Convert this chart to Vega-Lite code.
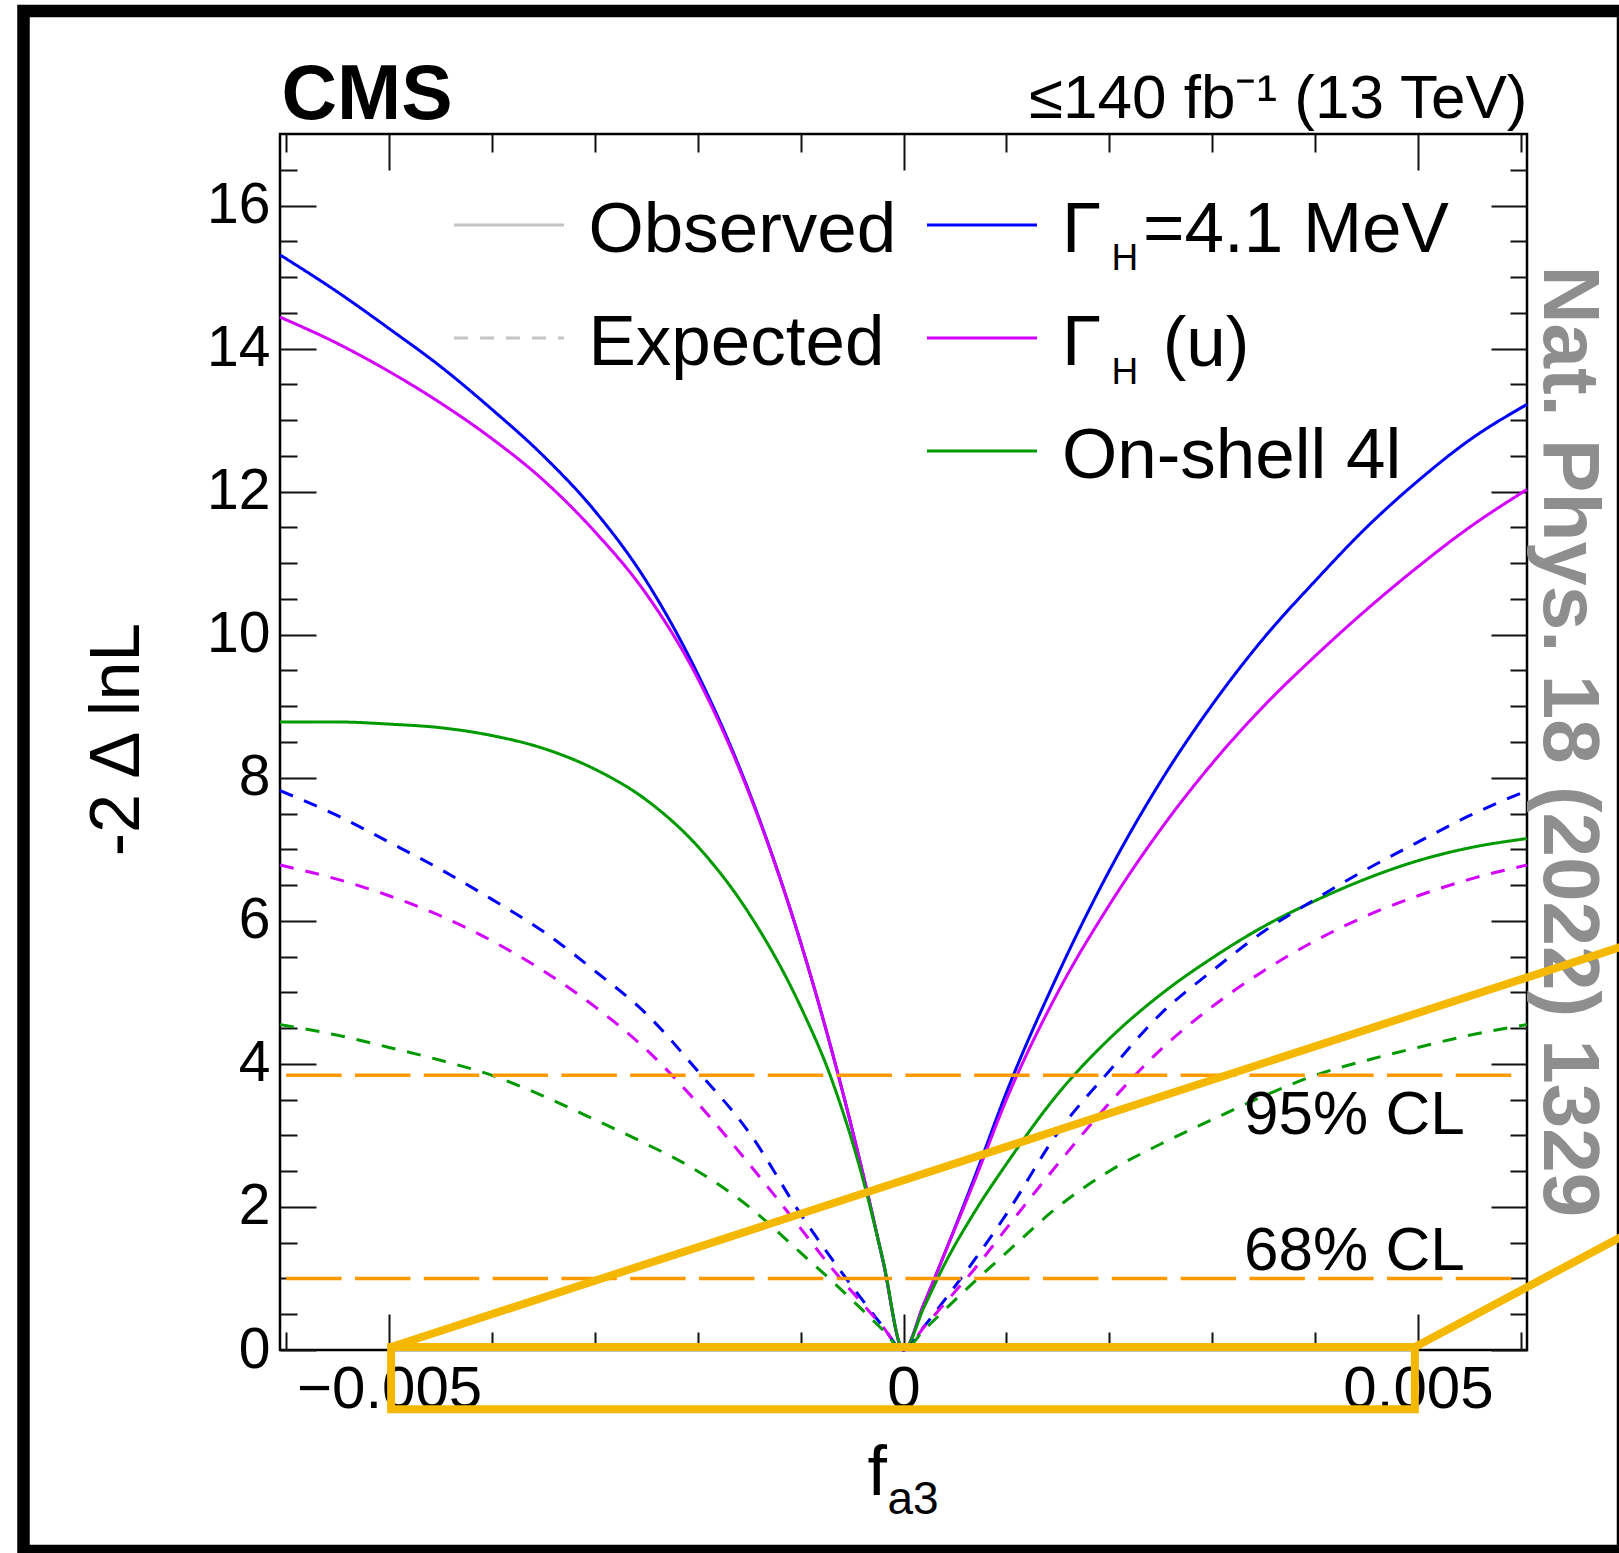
{
  "$schema": "https://vega.github.io/schema/vega-lite/v6.json",
  "width": 1247,
  "height": 1216,
  "autosize": "none",
  "padding": {"left": 280, "top": 134, "right": 92, "bottom": 203},
  "background": "white",
  "config": {
    "view": {"stroke": "#000", "strokeWidth": 2.5},
    "font": "Liberation Sans",
    "axis": {"grid": false, "domain": false, "tickColor": "#111", "tickWidth": 2, "labelFont": "Liberation Sans", "titleFont": "Liberation Sans", "titleFontWeight": "normal", "labelColor": "#000", "titleColor": "#000", "zindex": 1, "labelFlush": false, "labelOverlap": false, "labelLimit": 600, "titleLimit": 2000},
    "legend": {"labelFont": "Liberation Sans", "labelColor": "#000", "labelLimit": 2000, "padding": 0, "titlePadding": 0}
  },
  "datasets": {
    "curves": [
      {"m":"G41","k":"Observed","x":-0.00606,"y":15.31},{"m":"G41","k":"Observed","x":-0.0055,"y":14.79},{"m":"G41","k":"Observed","x":-0.005,"y":14.28},{"m":"G41","k":"Observed","x":-0.0045,"y":13.75},{"m":"G41","k":"Observed","x":-0.004,"y":13.15},{"m":"G41","k":"Observed","x":-0.0035,"y":12.5},{"m":"G41","k":"Observed","x":-0.003,"y":11.73},{"m":"G41","k":"Observed","x":-0.0025,"y":10.75},{"m":"G41","k":"Observed","x":-0.002,"y":9.45},{"m":"G41","k":"Observed","x":-0.0015,"y":7.8},{"m":"G41","k":"Observed","x":-0.001,"y":5.7},{"m":"G41","k":"Observed","x":-0.0007,"y":4.2},{"m":"G41","k":"Observed","x":-0.0004,"y":2.5},{"m":"G41","k":"Observed","x":-0.0002,"y":1.25},{"m":"G41","k":"Observed","x":0,"y":0},{"m":"G41","k":"Observed","x":0.0002,"y":0.65},{"m":"G41","k":"Observed","x":0.0004,"y":1.35},{"m":"G41","k":"Observed","x":0.0007,"y":2.45},{"m":"G41","k":"Observed","x":0.001,"y":3.6},{"m":"G41","k":"Observed","x":0.0015,"y":5.25},{"m":"G41","k":"Observed","x":0.002,"y":6.7},{"m":"G41","k":"Observed","x":0.0025,"y":7.95},{"m":"G41","k":"Observed","x":0.003,"y":9.02},{"m":"G41","k":"Observed","x":0.0035,"y":9.95},{"m":"G41","k":"Observed","x":0.004,"y":10.75},{"m":"G41","k":"Observed","x":0.0045,"y":11.5},{"m":"G41","k":"Observed","x":0.005,"y":12.15},{"m":"G41","k":"Observed","x":0.0055,"y":12.72},{"m":"G41","k":"Observed","x":0.00606,"y":13.22},
      {"m":"Gu","k":"Observed","x":-0.00606,"y":14.44},{"m":"Gu","k":"Observed","x":-0.0055,"y":14.07},{"m":"Gu","k":"Observed","x":-0.005,"y":13.68},{"m":"Gu","k":"Observed","x":-0.0045,"y":13.24},{"m":"Gu","k":"Observed","x":-0.004,"y":12.74},{"m":"Gu","k":"Observed","x":-0.0035,"y":12.16},{"m":"Gu","k":"Observed","x":-0.003,"y":11.44},{"m":"Gu","k":"Observed","x":-0.0025,"y":10.57},{"m":"Gu","k":"Observed","x":-0.002,"y":9.39},{"m":"Gu","k":"Observed","x":-0.0015,"y":7.78},{"m":"Gu","k":"Observed","x":-0.001,"y":5.7},{"m":"Gu","k":"Observed","x":-0.0007,"y":4.2},{"m":"Gu","k":"Observed","x":-0.0004,"y":2.5},{"m":"Gu","k":"Observed","x":-0.0002,"y":1.25},{"m":"Gu","k":"Observed","x":0,"y":0},{"m":"Gu","k":"Observed","x":0.0002,"y":0.65},{"m":"Gu","k":"Observed","x":0.0004,"y":1.35},{"m":"Gu","k":"Observed","x":0.0007,"y":2.4},{"m":"Gu","k":"Observed","x":0.001,"y":3.5},{"m":"Gu","k":"Observed","x":0.0015,"y":5.0},{"m":"Gu","k":"Observed","x":0.002,"y":6.22},{"m":"Gu","k":"Observed","x":0.0025,"y":7.28},{"m":"Gu","k":"Observed","x":0.003,"y":8.2},{"m":"Gu","k":"Observed","x":0.0035,"y":9.0},{"m":"Gu","k":"Observed","x":0.004,"y":9.7},{"m":"Gu","k":"Observed","x":0.0045,"y":10.35},{"m":"Gu","k":"Observed","x":0.005,"y":10.95},{"m":"Gu","k":"Observed","x":0.0055,"y":11.5},{"m":"Gu","k":"Observed","x":0.00606,"y":12.03},
      {"m":"OS","k":"Observed","x":-0.00606,"y":8.78},{"m":"OS","k":"Observed","x":-0.0055,"y":8.78},{"m":"OS","k":"Observed","x":-0.005,"y":8.75},{"m":"OS","k":"Observed","x":-0.0045,"y":8.7},{"m":"OS","k":"Observed","x":-0.004,"y":8.59},{"m":"OS","k":"Observed","x":-0.0035,"y":8.41},{"m":"OS","k":"Observed","x":-0.003,"y":8.12},{"m":"OS","k":"Observed","x":-0.0025,"y":7.69},{"m":"OS","k":"Observed","x":-0.002,"y":7.04},{"m":"OS","k":"Observed","x":-0.0015,"y":6.1},{"m":"OS","k":"Observed","x":-0.001,"y":4.8},{"m":"OS","k":"Observed","x":-0.0007,"y":3.79},{"m":"OS","k":"Observed","x":-0.0004,"y":2.42},{"m":"OS","k":"Observed","x":-0.0002,"y":1.26},{"m":"OS","k":"Observed","x":0,"y":0},{"m":"OS","k":"Observed","x":0.0002,"y":0.6},{"m":"OS","k":"Observed","x":0.0004,"y":1.2},{"m":"OS","k":"Observed","x":0.0007,"y":1.95},{"m":"OS","k":"Observed","x":0.001,"y":2.6},{"m":"OS","k":"Observed","x":0.0015,"y":3.58},{"m":"OS","k":"Observed","x":0.002,"y":4.35},{"m":"OS","k":"Observed","x":0.0025,"y":4.97},{"m":"OS","k":"Observed","x":0.003,"y":5.48},{"m":"OS","k":"Observed","x":0.0035,"y":5.92},{"m":"OS","k":"Observed","x":0.004,"y":6.28},{"m":"OS","k":"Observed","x":0.0045,"y":6.59},{"m":"OS","k":"Observed","x":0.005,"y":6.84},{"m":"OS","k":"Observed","x":0.0055,"y":7.02},{"m":"OS","k":"Observed","x":0.00606,"y":7.15},
      {"m":"G41","k":"Expected","x":-0.00606,"y":7.82},{"m":"G41","k":"Expected","x":-0.0055,"y":7.47},{"m":"G41","k":"Expected","x":-0.005,"y":7.1},{"m":"G41","k":"Expected","x":-0.0045,"y":6.72},{"m":"G41","k":"Expected","x":-0.004,"y":6.3},{"m":"G41","k":"Expected","x":-0.0035,"y":5.85},{"m":"G41","k":"Expected","x":-0.003,"y":5.3},{"m":"G41","k":"Expected","x":-0.0025,"y":4.7},{"m":"G41","k":"Expected","x":-0.002,"y":3.9},{"m":"G41","k":"Expected","x":-0.0015,"y":3.04},{"m":"G41","k":"Expected","x":-0.001,"y":1.9},{"m":"G41","k":"Expected","x":-0.0007,"y":1.28},{"m":"G41","k":"Expected","x":-0.0004,"y":0.7},{"m":"G41","k":"Expected","x":-0.0002,"y":0.33},{"m":"G41","k":"Expected","x":0,"y":0},{"m":"G41","k":"Expected","x":0.0002,"y":0.33},{"m":"G41","k":"Expected","x":0.0004,"y":0.7},{"m":"G41","k":"Expected","x":0.0007,"y":1.28},{"m":"G41","k":"Expected","x":0.001,"y":1.9},{"m":"G41","k":"Expected","x":0.0015,"y":3.04},{"m":"G41","k":"Expected","x":0.002,"y":3.9},{"m":"G41","k":"Expected","x":0.0025,"y":4.7},{"m":"G41","k":"Expected","x":0.003,"y":5.3},{"m":"G41","k":"Expected","x":0.0035,"y":5.85},{"m":"G41","k":"Expected","x":0.004,"y":6.3},{"m":"G41","k":"Expected","x":0.0045,"y":6.72},{"m":"G41","k":"Expected","x":0.005,"y":7.1},{"m":"G41","k":"Expected","x":0.0055,"y":7.47},{"m":"G41","k":"Expected","x":0.00606,"y":7.82},
      {"m":"Gu","k":"Expected","x":-0.00606,"y":6.78},{"m":"Gu","k":"Expected","x":-0.0055,"y":6.58},{"m":"Gu","k":"Expected","x":-0.005,"y":6.35},{"m":"Gu","k":"Expected","x":-0.0045,"y":6.07},{"m":"Gu","k":"Expected","x":-0.004,"y":5.72},{"m":"Gu","k":"Expected","x":-0.0035,"y":5.3},{"m":"Gu","k":"Expected","x":-0.003,"y":4.8},{"m":"Gu","k":"Expected","x":-0.0025,"y":4.2},{"m":"Gu","k":"Expected","x":-0.002,"y":3.45},{"m":"Gu","k":"Expected","x":-0.0015,"y":2.6},{"m":"Gu","k":"Expected","x":-0.001,"y":1.7},{"m":"Gu","k":"Expected","x":-0.0007,"y":1.15},{"m":"Gu","k":"Expected","x":-0.0004,"y":0.65},{"m":"Gu","k":"Expected","x":-0.0002,"y":0.32},{"m":"Gu","k":"Expected","x":0,"y":0},{"m":"Gu","k":"Expected","x":0.0002,"y":0.32},{"m":"Gu","k":"Expected","x":0.0004,"y":0.65},{"m":"Gu","k":"Expected","x":0.0007,"y":1.15},{"m":"Gu","k":"Expected","x":0.001,"y":1.7},{"m":"Gu","k":"Expected","x":0.0015,"y":2.6},{"m":"Gu","k":"Expected","x":0.002,"y":3.45},{"m":"Gu","k":"Expected","x":0.0025,"y":4.2},{"m":"Gu","k":"Expected","x":0.003,"y":4.8},{"m":"Gu","k":"Expected","x":0.0035,"y":5.3},{"m":"Gu","k":"Expected","x":0.004,"y":5.72},{"m":"Gu","k":"Expected","x":0.0045,"y":6.07},{"m":"Gu","k":"Expected","x":0.005,"y":6.35},{"m":"Gu","k":"Expected","x":0.0055,"y":6.58},{"m":"Gu","k":"Expected","x":0.00606,"y":6.78},
      {"m":"OS","k":"Expected","x":-0.00606,"y":4.55},{"m":"OS","k":"Expected","x":-0.0055,"y":4.4},{"m":"OS","k":"Expected","x":-0.005,"y":4.23},{"m":"OS","k":"Expected","x":-0.0045,"y":4.05},{"m":"OS","k":"Expected","x":-0.004,"y":3.84},{"m":"OS","k":"Expected","x":-0.0035,"y":3.55},{"m":"OS","k":"Expected","x":-0.003,"y":3.22},{"m":"OS","k":"Expected","x":-0.0025,"y":2.88},{"m":"OS","k":"Expected","x":-0.002,"y":2.5},{"m":"OS","k":"Expected","x":-0.0015,"y":2.0},{"m":"OS","k":"Expected","x":-0.001,"y":1.36},{"m":"OS","k":"Expected","x":-0.0007,"y":0.97},{"m":"OS","k":"Expected","x":-0.0004,"y":0.56},{"m":"OS","k":"Expected","x":-0.0002,"y":0.28},{"m":"OS","k":"Expected","x":0,"y":0},{"m":"OS","k":"Expected","x":0.0002,"y":0.28},{"m":"OS","k":"Expected","x":0.0004,"y":0.56},{"m":"OS","k":"Expected","x":0.0007,"y":0.97},{"m":"OS","k":"Expected","x":0.001,"y":1.36},{"m":"OS","k":"Expected","x":0.0015,"y":2.0},{"m":"OS","k":"Expected","x":0.002,"y":2.5},{"m":"OS","k":"Expected","x":0.0025,"y":2.88},{"m":"OS","k":"Expected","x":0.003,"y":3.22},{"m":"OS","k":"Expected","x":0.0035,"y":3.55},{"m":"OS","k":"Expected","x":0.004,"y":3.84},{"m":"OS","k":"Expected","x":0.0045,"y":4.05},{"m":"OS","k":"Expected","x":0.005,"y":4.23},{"m":"OS","k":"Expected","x":0.0055,"y":4.4},{"m":"OS","k":"Expected","x":0.00606,"y":4.55}
    ]
  },
  "resolve": {"scale": {"x": "shared", "y": "shared"}, "axis": {"x": "independent", "y": "independent"}},
  "layer": [
    {
      "data": {"values": [{}]},
      "mark": {"type": "rect", "fill": "transparent", "stroke": "#000", "strokeWidth": 12.5},
      "encoding": {
        "x": {"datum": -0.008553, "type": "quantitative", "scale": {"domain": [-0.00606, 0.00606], "nice": false, "zero": false}, "axis": null},
        "x2": {"datum": 0.006993},
        "y": {"datum": 18.72, "type": "quantitative", "scale": {"domain": [0, 17], "nice": false, "zero": false}, "axis": null},
        "y2": {"datum": -2.81}
      }
    },
    {
      "data": {"name": "curves"},
      "mark": {"type": "line", "interpolate": "monotone"},
      "encoding": {
        "x": {"field": "x", "type": "quantitative", "scale": {"domain": [-0.00606, 0.00606], "nice": false, "zero": false},
          "axis": {"orient": "bottom", "values": [-0.005, 0, 0.005], "tickSize": -36, "labelFontSize": 60, "labelPadding": 46, "labelLimit": 600, "labelExpr": "datum.value == 0 ? '0' : format(datum.value, '.3f')", "title": "f", "titleFontSize": 70, "titleX": 587, "titleY": 144, "titleAlign": "left", "titleBaseline": "alphabetic", "titleAngle": 0}},
        "y": {"field": "y", "type": "quantitative", "scale": {"domain": [0, 17], "nice": false, "zero": false},
          "axis": {"orient": "left", "values": [0, 2, 4, 6, 8, 10, 12, 14, 16], "format": "d", "tickSize": -36, "labelFontSize": 57, "labelPadding": 46, "title": "-2 Δ lnL", "titleFontSize": 70, "titleAngle": 270, "titleX": -142, "titleY": 605, "titleAlign": "center", "titleBaseline": "alphabetic"}},
        "color": {"field": "m", "type": "nominal", "scale": {"range": ["#0000ff", "#d400ff", "#009a00"]},
          "legend": {"orient": "none", "legendX": 645.5, "legendY": 34.5, "title": null, "direction": "vertical", "labelExpr": "datum.label == 'OS' ? 'On-shell 4l' : 'Γ'", "symbolType": "stroke", "symbolSize": 12100, "symbolStrokeWidth": 3, "labelFontSize": 71, "labelOffset": 23.5, "rowPadding": 15, "encode": {"labels": {"update": {"dy": {"value": 6}}}}}},
        "strokeDash": {"field": "k", "type": "nominal", "scale": {"domain": ["Observed", "Expected"], "range": [[1, 0], [14, 12]]},
          "legend": {"orient": "none", "legendX": 172.5, "legendY": 34.5, "title": null, "direction": "vertical", "symbolType": "stroke", "symbolSize": 12100, "symbolStrokeWidth": 3, "symbolStrokeColor": "#c4c4c4", "labelFontSize": 71, "labelOffset": 23, "rowPadding": 15, "encode": {"labels": {"update": {"dy": {"value": 6}}}}}},
        "opacity": {"field": "m", "type": "nominal", "scale": {"domain": ["G41", "Gu", "OS"], "range": [1, 1, 1]},
          "legend": {"orient": "none", "legendX": 794.5, "legendY": 106.4, "title": null, "direction": "vertical", "values": ["G41", "Gu"], "labelExpr": "'H'", "symbolSize": 1, "symbolStrokeWidth": 0, "symbolOpacity": 0, "symbolStrokeColor": "transparent", "symbolFillColor": "transparent", "labelFontSize": 37, "labelOffset": 0, "rowPadding": 76}},
        "strokeWidth": {"field": "m", "type": "nominal", "scale": {"domain": ["G41", "Gu", "OS", "none"], "range": [3, 3, 3, 3]},
          "legend": {"orient": "none", "legendX": 792, "legendY": 61.5, "title": null, "direction": "vertical", "values": ["G41", "Gu"], "labelExpr": "datum.label == 'G41' ? '=4.1 MeV' : '\u200b (u)'", "symbolSize": 1, "symbolStrokeWidth": 0, "symbolOpacity": 0, "symbolStrokeColor": "transparent", "symbolFillColor": "transparent", "labelFontSize": 71, "labelOffset": 0, "rowPadding": 42}}
      }
    },
    {
      "data": {"values": [{"cl": "95% CL", "v": 3.84}, {"cl": "68% CL", "v": 1.0}]},
      "mark": {"type": "rule", "color": "#ff9900", "strokeWidth": 3.5, "strokeDash": [55.5, 13.3]},
      "encoding": {
        "x": {"datum": -0.006, "type": "quantitative", "scale": {"domain": [-0.00606, 0.00606], "nice": false, "zero": false},
          "axis": {"orient": "bottom", "values": [-0.006, -0.004, -0.003, -0.002, -0.001, 0.001, 0.002, 0.003, 0.004, 0.006], "tickSize": -18, "labels": false, "title": "a3", "titleFontSize": 46, "titleX": 607, "titleY": 163, "titleAlign": "left", "titleBaseline": "alphabetic", "titleAngle": 0}},
        "x2": {"datum": 0.006},
        "y": {"field": "v", "type": "quantitative", "scale": {"domain": [0, 17], "nice": false, "zero": false},
          "axis": {"orient": "left", "values": [0.5, 1, 1.5, 2.5, 3, 3.5, 4.5, 5, 5.5, 6.5, 7, 7.5, 8.5, 9, 9.5, 10.5, 11, 11.5, 12.5, 13, 13.5, 14.5, 15, 15.5, 16.5], "tickSize": -17, "labels": false, "title": null}}
      }
    },
    {
      "data": {"values": [{"t": "95% CL"}]},
      "mark": {"type": "text", "align": "left", "baseline": "alphabetic", "fontSize": 62, "color": "#000"},
      "encoding": {
        "text": {"field": "t"},
        "x": {"datum": 0.00331, "type": "quantitative", "scale": {"domain": [-0.00606, 0.00606], "nice": false, "zero": false},
          "axis": {"orient": "top", "values": [-0.005, 0, 0.005], "tickSize": -36, "labels": false, "title": "CMS", "titleFontSize": 77, "titleFontWeight": "bold", "titleX": 1, "titleY": -16, "titleAlign": "left", "titleBaseline": "alphabetic", "titleAngle": 0}},
        "y": {"datum": 3.02, "type": "quantitative", "scale": {"domain": [0, 17], "nice": false, "zero": false},
          "axis": {"orient": "right", "values": [0, 2, 4, 6, 8, 10, 12, 14, 16], "tickSize": -36, "labels": false, "title": "Nat. Phys. 18 (2022) 1329", "titleFontSize": 80, "titleFontWeight": "bold", "titleColor": "#8e8e8e", "titleAngle": 90, "titleX": 16, "titleY": 607, "titleAlign": "center", "titleBaseline": "alphabetic"}}
      }
    },
    {
      "data": {"values": [{"t": "68% CL"}]},
      "mark": {"type": "text", "align": "left", "baseline": "alphabetic", "fontSize": 62, "color": "#000"},
      "encoding": {
        "text": {"field": "t"},
        "x": {"datum": 0.00331, "type": "quantitative", "scale": {"domain": [-0.00606, 0.00606], "nice": false, "zero": false},
          "axis": {"orient": "top", "values": [-0.006, -0.004, -0.003, -0.002, -0.001, 0.001, 0.002, 0.003, 0.004, 0.006], "tickSize": -18, "labels": false, "title": "≤140 fb⁻¹ (13 TeV)", "titleFontSize": 62, "titleX": 1247, "titleY": -17, "titleAlign": "right", "titleBaseline": "alphabetic", "titleAngle": 0}},
        "y": {"datum": 1.118, "type": "quantitative", "scale": {"domain": [0, 17], "nice": false, "zero": false},
          "axis": {"orient": "right", "values": [0.5, 1, 1.5, 2.5, 3, 3.5, 4.5, 5, 5.5, 6.5, 7, 7.5, 8.5, 9, 9.5, 10.5, 11, 11.5, 12.5, 13, 13.5, 14.5, 15, 15.5, 16.5], "tickSize": -17, "labels": false, "title": null}}
      }
    },
    {
      "data": {"values": [{}]},
      "mark": {"type": "rect", "fill": "transparent", "stroke": "#f5b800", "strokeWidth": 8},
      "encoding": {
        "x": {"datum": -0.00498, "type": "quantitative", "scale": {"domain": [-0.00606, 0.00606], "nice": false, "zero": false}, "axis": null},
        "x2": {"datum": 0.00497},
        "y": {"datum": 0.042, "type": "quantitative", "scale": {"domain": [0, 17], "nice": false, "zero": false}, "axis": null},
        "y2": {"datum": -0.83}
      }
    },
    {
      "data": {"values": [{}]},
      "mark": {"type": "rule", "stroke": "#f5b800", "strokeWidth": 8},
      "encoding": {
        "x": {"datum": -0.00498, "type": "quantitative", "scale": {"domain": [-0.00606, 0.00606], "nice": false, "zero": false}, "axis": null},
        "x2": {"datum": 0.00726},
        "y": {"datum": 0.042, "type": "quantitative", "scale": {"domain": [0, 17], "nice": false, "zero": false}, "axis": null},
        "y2": {"datum": 5.77}
      }
    },
    {
      "data": {"values": [{}]},
      "mark": {"type": "rule", "stroke": "#f5b800", "strokeWidth": 8},
      "encoding": {
        "x": {"datum": 0.00497, "type": "quantitative", "scale": {"domain": [-0.00606, 0.00606], "nice": false, "zero": false}, "axis": null},
        "x2": {"datum": 0.00726},
        "y": {"datum": 0.042, "type": "quantitative", "scale": {"domain": [0, 17], "nice": false, "zero": false}, "axis": null},
        "y2": {"datum": 1.8}
      }
    }
  ]
}
